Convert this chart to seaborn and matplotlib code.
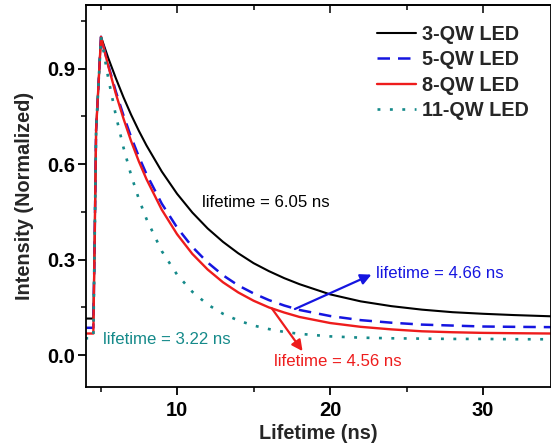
import numpy as np
import pandas as pd
import matplotlib
matplotlib.use("Agg")
import matplotlib.pyplot as plt
import seaborn as sns
from matplotlib.ticker import MultipleLocator, FormatStrFormatter

sns.set_theme(style="ticks")
plt.rcParams["font.family"] = ["Liberation Sans", "DejaVu Sans"]

# Time axis (ns) shared by all four decay traces
time_ns = [4.0, 4.53, 4.61, 4.71, 5.03, 5.5, 6.0, 6.5, 7.0, 7.5, 8.0, 9.0, 10.0,
           11.0, 12.0, 13.0, 14.0, 15.0, 16.0, 17.0, 18.0, 20.0, 22.0, 24.0,
           26.0, 28.0, 30.0, 32.0, 34.5]

# Normalized TRPL intensity of each LED
qw3 = [0.115, 0.115, 0.34, 0.707, 1.0, 0.934, 0.870, 0.810, 0.755, 0.705, 0.659,
       0.577, 0.507, 0.448, 0.398, 0.356, 0.320, 0.289, 0.264, 0.242, 0.223,
       0.191, 0.169, 0.154, 0.143, 0.135, 0.130, 0.126, 0.122]
qw5 = [0.086, 0.086, 0.34, 0.707, 1.0, 0.912, 0.828, 0.753, 0.685, 0.624, 0.569,
       0.476, 0.401, 0.340, 0.291, 0.251, 0.219, 0.194, 0.173, 0.156, 0.142,
       0.123, 0.110, 0.102, 0.096, 0.093, 0.090, 0.089, 0.088]
qw8 = [0.068, 0.068, 0.34, 0.707, 1.0, 0.909, 0.821, 0.743, 0.672, 0.609, 0.553,
       0.457, 0.380, 0.318, 0.269, 0.229, 0.197, 0.171, 0.150, 0.134, 0.120,
       0.101, 0.089, 0.081, 0.075, 0.072, 0.070, 0.069, 0.068]
qw11 = [0.053, 0.053, 0.34, 0.707, 1.0, 0.871, 0.753, 0.652, 0.565, 0.491, 0.428,
        0.327, 0.253, 0.199, 0.159, 0.130, 0.109, 0.093, 0.082, 0.073, 0.067,
        0.059, 0.055, 0.053, 0.052, 0.051, 0.051, 0.050, 0.050]

labels = ["3-QW LED", "5-QW LED", "8-QW LED", "11-QW LED"]
series = [qw3, qw5, qw8, qw11]
colors = ["#000000", "#1515e0", "#ee1c1c", "#158a8a"]
styles = ["-", (0, (5, 3.2)), "-", (0, (1.1, 3.6))]
widths = [1.5, 1.8, 1.7, 1.9]

fig = plt.figure(figsize=(5.51, 4.44), dpi=100)
ax = fig.add_axes([86 / 551, 57 / 444, 464.5 / 551, 382 / 444])

for lab, vals, c, ls, lw in zip(labels, series, colors, styles, widths):
    df = pd.DataFrame({"t": time_ns, "I": vals})
    sns.lineplot(data=df, x="t", y="I", ax=ax, color=c, linestyle=ls, lw=lw,
                 label=lab, estimator=None, sort=False)

ax.set_xlim(4.05, 34.4)
ax.set_ylim(-0.1, 1.1)
ax.xaxis.set_major_locator(MultipleLocator(10))
ax.xaxis.set_minor_locator(MultipleLocator(5))
ax.yaxis.set_major_locator(MultipleLocator(0.3))
ax.yaxis.set_minor_locator(MultipleLocator(0.15))
ax.xaxis.set_major_formatter(FormatStrFormatter("%d"))
ax.yaxis.set_major_formatter(FormatStrFormatter("%.1f"))

for s in ax.spines.values():
    s.set_linewidth(1.3)
    s.set_color("black")

ax.tick_params(axis="both", which="major", direction="out", length=6, width=1.3,
               labelsize=14.5, colors="black")
ax.tick_params(axis="y", which="major", pad=2)
ax.tick_params(axis="x", which="major", pad=4)
ax.tick_params(axis="both", which="minor", direction="out", length=3.5, width=1.3)
for lbl in ax.get_xticklabels() + ax.get_yticklabels():
    lbl.set_fontweight("bold")

# mirrored ticks on the top edge, pointing inward
top = ax.secondary_xaxis("top")
top.xaxis.set_major_locator(MultipleLocator(10))
top.xaxis.set_minor_locator(MultipleLocator(5))
top.tick_params(axis="x", which="major", direction="in", length=6, width=1.3, labeltop=False)
top.tick_params(axis="x", which="minor", direction="in", length=3.5, width=1.3)
top.spines["top"].set_linewidth(1.3)

ax.set_xlabel("Lifetime (ns)", fontsize=14.3, fontweight="bold", labelpad=3)
ax.set_ylabel("Intensity (Normalized)", fontsize=14.3, fontweight="bold", labelpad=9)

leg = ax.legend(loc="upper left", bbox_to_anchor=(0.6265, 0.948), frameon=False,
                fontsize=14.3, handlelength=1.95, handletextpad=0.3,
                labelspacing=0.32, borderpad=0, borderaxespad=0)
for t in leg.get_texts():
    t.set_fontweight("bold")

fs = 12.1
ax.text(11.6, 0.48, "lifetime = 6.05 ns", color=colors[0], fontsize=fs, va="center")
ax.text(23.0, 0.258, "lifetime = 4.66 ns", color=colors[1], fontsize=fs, va="center")
ax.text(16.34, -0.019, "lifetime = 4.56 ns", color=colors[2], fontsize=fs, va="center")
ax.text(5.14, 0.05, "lifetime = 3.22 ns", color=colors[3], fontsize=fs, va="center")

ax.annotate("", xy=(22.7, 0.253), xytext=(17.7, 0.145),
            arrowprops=dict(arrowstyle="-|>", color=colors[1], lw=1.6,
                            mutation_scale=16, shrinkA=0, shrinkB=0))
ax.annotate("", xy=(18.2, 0.0126), xytext=(16.19, 0.147),
            arrowprops=dict(arrowstyle="-|>", color=colors[2], lw=1.6,
                            mutation_scale=16, shrinkA=0, shrinkB=0))

fig.savefig("out.png", dpi=100)
